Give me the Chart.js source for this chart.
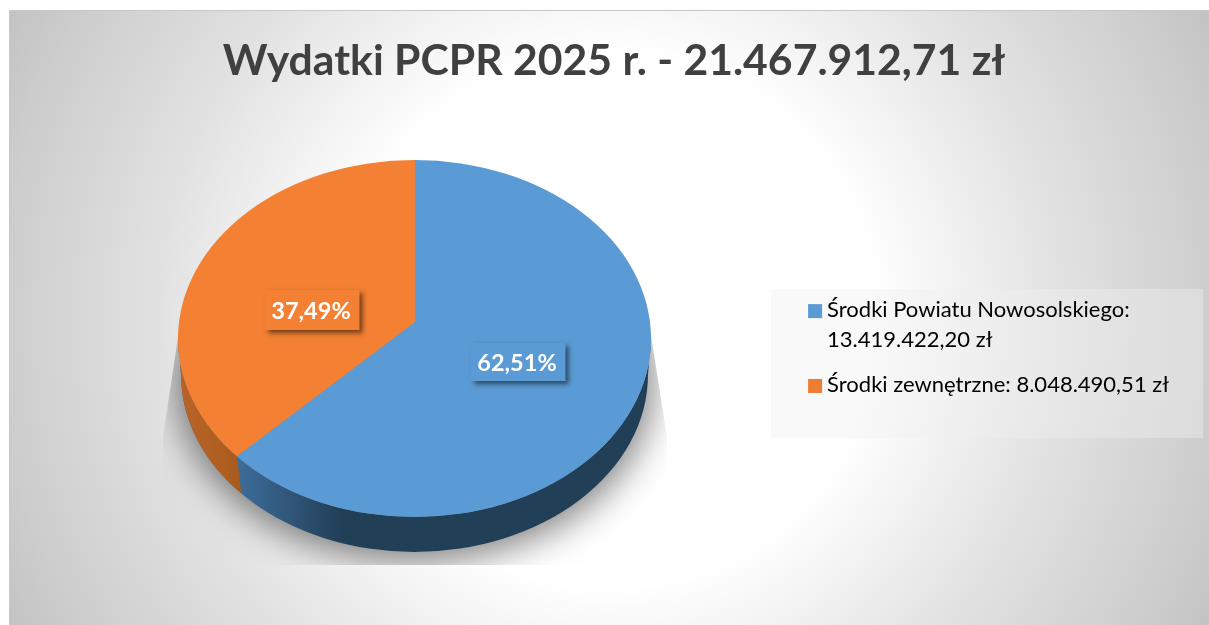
<!DOCTYPE html>
<html><head><meta charset="utf-8">
<style>html,body{margin:0;padding:0;background:#fff}#w{position:absolute;left:0;top:0;width:1209px;height:625px}</style>
<script src="https://cdn.jsdelivr.net/npm/chart.js@4"></script>
</head><body><div id="w"><canvas id="c" width="1209" height="625"></canvas></div>
<script>
const titleText = 'Wydatki PCPR 2025 r. - 21.467.912,71 zł';
const categories = [['Środki Powiatu Nowosolskiego:', '13.419.422,20 zł'], ['Środki zewnętrzne: 8.048.490,51 zł']];
const values = [13419422.20, 8048490.51];
const percentLabels = ['62,51%', '37,49%'];
const colors = ['#5B9BD5', '#F38033'];
const legendColors = ['#5B9BD5', '#ED7D31'];

const PIE = {cx: 414.5, cy: 338.5, rx: 236.5, ry: 178.5, apexY: 322, sy: 0.755, depth: 36};
const LABEL_BOX = [{cx: 518, cy: 362, w: 95, h: 38}, {cx: 312, cy: 310, w: 95, h: 40}];
const LEGEND_SHIFT = 39;

function ellipse(ctx, cy) { ctx.beginPath(); ctx.ellipse(PIE.cx, cy, PIE.rx, PIE.ry, 0, 0, Math.PI*2); }

const scene = {
  id: 'scene',
  afterLayout(chart) {
    chart.legend.top += LEGEND_SHIFT;
    chart.legend.bottom += LEGEND_SHIFT;
    chart.legend.legendHitBoxes.forEach(h => { h.top += LEGEND_SHIFT; });
  },
  beforeDraw(chart) {
    const ctx = chart.ctx;
    ctx.save();
    ctx.fillStyle = '#fff'; ctx.fillRect(0,0,1209,625);
    const g = ctx.createRadialGradient(610, 320, 0, 610, 320, 720);
    g.addColorStop(0, '#ffffff'); g.addColorStop(0.367,'#ffffff'); g.addColorStop(0.625, '#e2e2e2'); g.addColorStop(0.847, '#cdcdcd'); g.addColorStop(1, '#bcbcbc');
    ctx.fillStyle = g; ctx.fillRect(9.5, 10.5, 1200, 615);
    ctx.strokeStyle = '#c8c8c8'; ctx.lineWidth = 1;
    ctx.beginPath(); ctx.moveTo(9.5,625); ctx.lineTo(9.5,10.5); ctx.lineTo(1209,10.5); ctx.stroke();
    // legend plate
    ctx.fillStyle = 'rgba(240,240,240,0.4)'; ctx.fillRect(771, 289, 432, 149);
    // projected shadow, cast by an off-canvas copy of the disc
    ctx.save();
    ctx.beginPath();
    ctx.moveTo(184,297); ctx.lineTo(163,437); ctx.lineTo(163,565); ctx.lineTo(667,565); ctx.lineTo(667,437); ctx.lineTo(645,297); ctx.closePath();
    ctx.clip();
    ctx.shadowColor = 'rgba(0,0,0,0.5)'; ctx.shadowBlur = 36; ctx.shadowOffsetX = 2000; ctx.shadowOffsetY = 0;
    ctx.fillStyle = '#000';
    ctx.beginPath(); ctx.ellipse(PIE.cx - 2000, PIE.cy + PIE.depth + 6, PIE.rx + 2, PIE.ry + 2, 0, 0, Math.PI*2); ctx.fill();
    ctx.restore();
    ctx.restore();
  },
  beforeDatasetsDraw(chart) {
    const ctx = chart.ctx, arcs = chart.getDatasetMeta(0).data;
    const a0 = arcs[0];
    // side wall
    ctx.save();
    ctx.beginPath();
    ctx.ellipse(PIE.cx, PIE.cy + PIE.depth, PIE.rx - 3, PIE.ry - 1, 0, 0, Math.PI);
    ctx.ellipse(PIE.cx, PIE.cy, PIE.rx, PIE.ry, 0, Math.PI, 0, true);
    ctx.closePath();
    const seam = 237;
    const wall = ctx.createLinearGradient(seam, 0, PIE.cx + 236, 0);
    wall.addColorStop(0, '#3E6D9A'); wall.addColorStop(0.25, '#223F58'); wall.addColorStop(1, '#223F58');
    ctx.fillStyle = wall; ctx.fill();
    ctx.clip();
    const og = ctx.createLinearGradient(178, 0, seam + 3, 0);
    og.addColorStop(0, '#B9622A'); og.addColorStop(0.7,'#B05F20'); og.addColorStop(1, '#A85A1E');
    ctx.fillStyle = og;
    ctx.beginPath(); ctx.moveTo(150, 300); ctx.lineTo(seam, 300); ctx.lineTo(seam, 456); ctx.lineTo(241, 491); ctx.lineTo(241, 560); ctx.lineTo(150, 560); ctx.closePath(); ctx.fill();
    ctx.restore();
    // top face: slices are drawn around their apex, squashed into the tilted ellipse
    ctx.save();
    ellipse(ctx, PIE.cy); ctx.clip();
    ctx.translate(PIE.cx, PIE.apexY); ctx.scale(1, PIE.sy); ctx.translate(-a0.x, -a0.y);
  },
  afterDatasetsDraw(chart) {
    const ctx = chart.ctx;
    ctx.restore();
    ctx.save();
    percentLabels.forEach((t, i) => {
      const b = LABEL_BOX[i];
      ctx.save();
      ctx.shadowColor = 'rgba(0,0,0,0.55)'; ctx.shadowBlur = 5; ctx.shadowOffsetX = 3; ctx.shadowOffsetY = 3;
      ctx.fillStyle = colors[i];
      ctx.fillRect(b.cx - b.w/2, b.cy - b.h/2, b.w, b.h);
      ctx.restore();
      ctx.fillStyle = '#fff'; ctx.font = 'bold 23.5px Lato'; ctx.textAlign = 'center'; ctx.textBaseline = 'middle';
      ctx.fillText(t, b.cx - 1, b.cy + 1);
    });
    ctx.restore();
  },
  afterDraw(chart) {
    // legend swatches are wider than the text gap the library leaves for them
    const ctx = chart.ctx, leg = chart.legend;
    leg.legendHitBoxes.forEach((h, i) => {
      ctx.fillStyle = legendColors[i];
      ctx.fillRect(h.left, h.top + 5, 14, 14);
    });
  }
};

new Chart(document.getElementById('c'), {
  type: 'pie',
  data: { labels: categories, datasets: [{ data: values, backgroundColor: colors, borderColor: colors, borderWidth: 1, radius: 290, clip: false }] },
  plugins: [scene],
  options: {
    responsive: false, animation: false, devicePixelRatio: 1,
    layout: { padding: { top: 0, right: 30, bottom: 0, left: 49 } },
    plugins: {
      tooltip: { enabled: false },
      title: { display: true, text: titleText, color: '#404040', font: { family: 'Lato', size: 42.7, weight: 'bold' }, padding: { top: 36, bottom: 174 } },
      legend: {
        display: true, position: 'right', align: 'center',
        labels: {
          boxWidth: 8, boxHeight: 14, padding: 15, color: '#404040',
          font: { family: 'Lato', size: 22, lineHeight: 1.36 },
          generateLabels: () => categories.map((c, i) => ({ text: c, fillStyle: 'rgba(0,0,0,0)', strokeStyle: 'rgba(0,0,0,0)', lineWidth: 0, index: i, hidden: false }))
        }
      }
    }
  }
});
</script></body></html>
